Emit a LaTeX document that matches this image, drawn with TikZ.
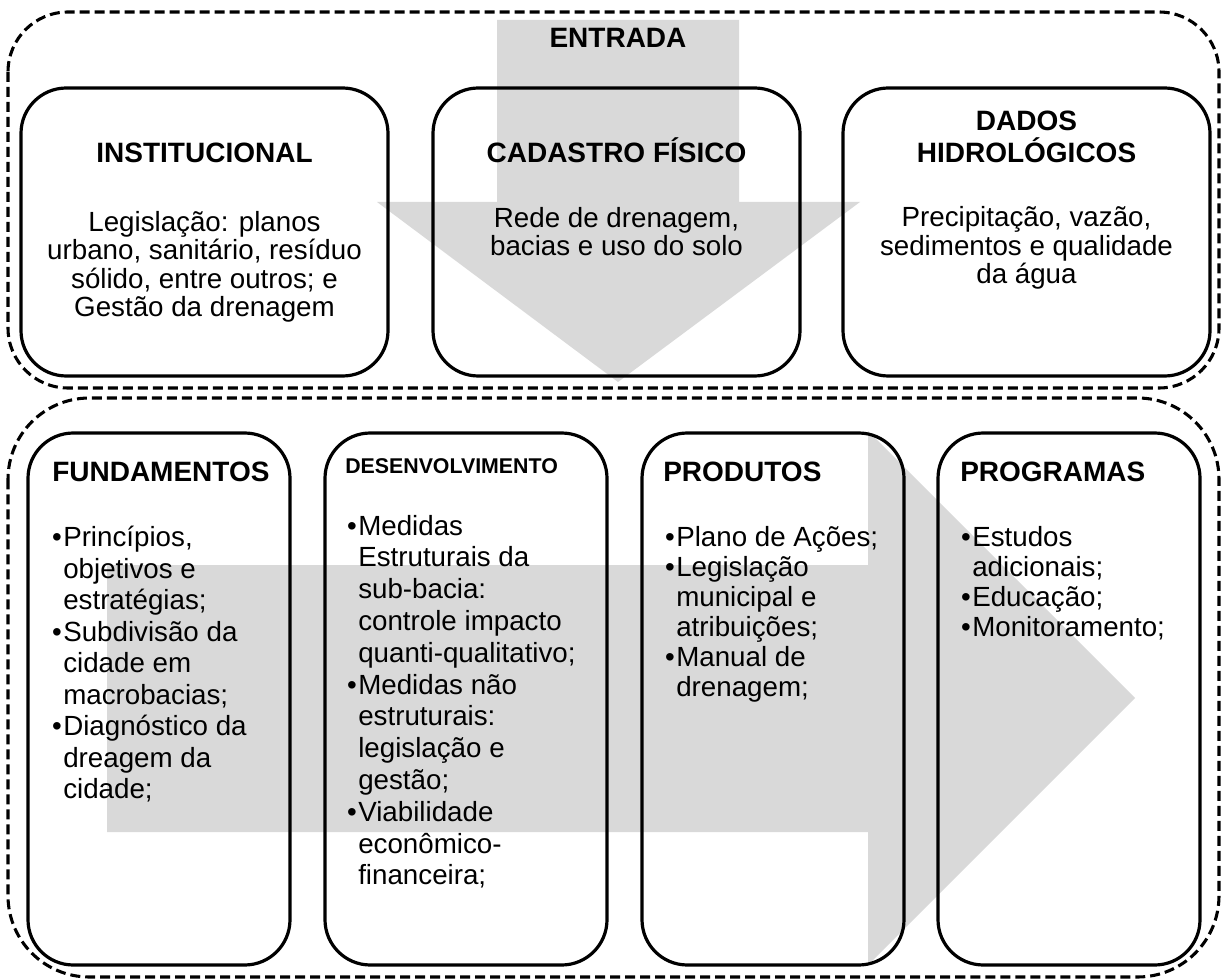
\documentclass[tikz,border=0pt]{standalone}
\usepackage{fontspec}
\setmainfont{Liberation Sans}
\usetikzlibrary{positioning,calc}
\definecolor{cSeta}{HTML}{D9D9D9}
\tikzset{
  grupo/.style={draw=black, line width=2.3pt, dash pattern=on 7.5pt off 3.75pt},
  caixa/.style={draw=black, line width=2.4pt, rounded corners=34pt, inner sep=0pt, outer sep=0pt},
  cxsup/.style={caixa, minimum width=275.25pt, minimum height=216pt},
  cxinf/.style={caixa, minimum width=196.5pt, minimum height=399pt},
  titulo/.style={font=\fontsize{21}{24}\selectfont\bfseries, inner sep=0pt, align=center},
  corpo/.style={font=\fontsize{20.8}{21.4}\selectfont, inner sep=0pt, align=center},
  lista/.style={font=\fontsize{20.8}{22.5}\selectfont, inner sep=0pt, align=left},
  seta/.style={fill=cSeta, draw=none}
}
\newcommand{\bul}{\leavevmode\llap{\textbullet\hspace{1pt}}}

\begin{document}
\begin{tikzpicture}[x=0.75pt, y=-0.75pt]
\useasboundingbox (0,0) rectangle (1224,980);
% gray arrows in the back
\fill[seta] (497,20) -- (739,20) -- (739,202) -- (860,202) -- (618,382) -- (377,202) -- (497,202) -- cycle;
\fill[seta] (107,565) -- (868,565) -- (868,431) -- (1135,698) -- (868,965) -- (868,832) -- (107,832) -- cycle;
% dashed groups
\draw[grupo, rounded corners=45pt] (8,12) rectangle (1219,388);
\draw[grupo, rounded corners=61pt] (8,398) rectangle (1219,977);
\node[titulo, anchor=base] (entT) at (618,48) {ENTRADA};
% Row 1: entrada (base = last line)
\node[cxsup] (inst) at (204.5,232) {};
\node[cxsup, right=33.75pt of inst] (cad) {};
\node[cxsup, right=32.25pt of cad] (dados) {};
\node[titulo, anchor=base] (instT) at ($(inst.north)+(0,75)$) {INSTITUCIONAL};
\node[corpo, anchor=base] (instC) at ($(inst.north)+(0,229)$) {Legislação: planos\\urbano, sanitário, resíduo\\sólido, entre outros; e\\Gestão da drenagem};
\node[titulo, anchor=base] (cadT) at ($(cad.north)+(0,75)$) {CADASTRO FÍSICO};
\node[corpo, anchor=base] (cadC) at ($(cad.north)+(0,168)$) {Rede de drenagem,\\bacias e uso do solo};
\node[titulo, anchor=base] (dadosT) at ($(dados.north)+(0,75)$) {DADOS\\HIDROLÓGICOS};
\node[corpo, anchor=base] (dadosC) at ($(dados.north)+(0,196)$) {Precipitação, vazão,\\sedimentos e qualidade\\da água};
% Row 2: plano
\node[cxinf] (fund) at (159,699) {};
\node[cxinf, minimum width=211.5pt, right=26.25pt of fund] (desenv) {};
\node[cxinf, right=26.25pt of desenv] (prod) {};
\node[cxinf, right=25.5pt of prod] (prog) {};
\node[titulo, anchor=base west] (fundT) at ($(fund.north west)+(24,48)$) {FUNDAMENTOS};
\node[titulo, anchor=base west, font=\fontsize{16}{18}\selectfont\bfseries] (desenvT) at ($(desenv.north west)+(20,40)$) {DESENVOLVIMENTO};
\node[titulo, anchor=base west] (prodT) at ($(prod.north west)+(21,48)$) {PRODUTOS};
\node[titulo, anchor=base west] (progT) at ($(prog.north west)+(22,48)$) {PROGRAMAS};
\node[lista, anchor=base west, font=\fontsize{20.8}{23.6}\selectfont] (fundC) at ($(fund.north west)+(35,365.7)$)
  {\bul Princípios,\\objetivos e\\estratégias;\\\bul Subdivisão da\\cidade em\\macrobacias;\\\bul Diagnóstico da\\dreagem da\\cidade;};
\node[lista, anchor=base west, font=\fontsize{20.8}{23.85}\selectfont] (desenvC) at ($(desenv.north west)+(33,451.8)$)
  {\bul Medidas\\Estruturais da\\sub-bacia:\\controle impacto\\quanti-qualitativo;\\\bul Medidas não\\estruturais:\\legislação e\\gestão;\\\bul Viabilidade\\econômico-\\financeira;};
\node[lista, anchor=base west] (prodC) at ($(prod.north west)+(34,263)$)
  {\bul Plano de Ações;\\\bul Legislação\\municipal e\\atribuições;\\\bul Manual de\\drenagem;};
\node[lista, anchor=base west] (progC) at ($(prog.north west)+(34,203)$)
  {\bul Estudos\\adicionais;\\\bul Educação;\\\bul Monitoramento;};
\end{tikzpicture}
\end{document}
